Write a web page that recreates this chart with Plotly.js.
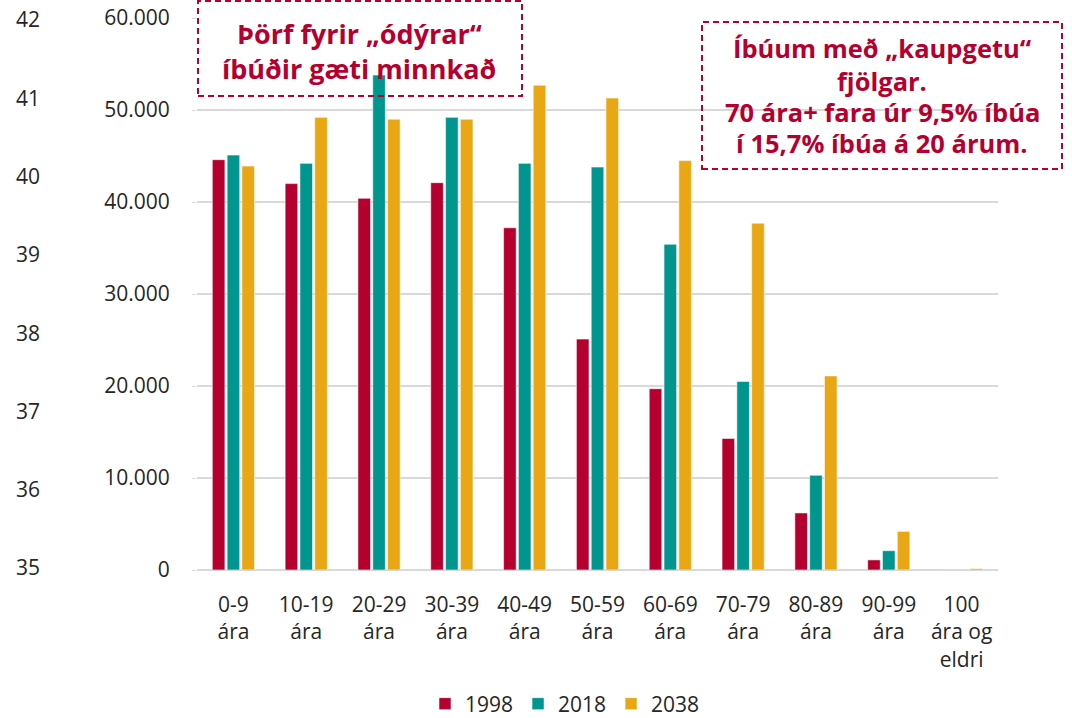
<!DOCTYPE html>
<html>
<head>
<meta charset="utf-8">
<script src="https://cdn.plot.ly/plotly-3.0.1.min.js"></script>
<style>
  html, body { margin: 0; padding: 0; background: #ffffff; }
  #chart { width: 1072px; height: 718px; }
</style>
</head>
<body>
<div id="chart"></div>
<script>
// ---- data ----
const categories = ["0-9<br>ára", "10-19<br>ára", "20-29<br>ára", "30-39<br>ára", "40-49<br>ára",
  "50-59<br>ára", "60-69<br>ára", "70-79<br>ára", "80-89<br>ára", "90-99<br>ára", "100<br>ára og<br>eldri"];
const seriesNames = ["1998", "2018", "2038"];
const values1998 = [44600, 42000, 40400, 42100, 37200, 25100, 19700, 14300, 6200, 1100, 30];
const values2018 = [45100, 44200, 53800, 49200, 44200, 43800, 35400, 20500, 10300, 2100, 60];
const values2038 = [43900, 49200, 49000, 49000, 52700, 51300, 44500, 37700, 21100, 4200, 150];
const leftTicks = [35, 36, 37, 38, 39, 40, 41, 42];
const note1 = ["Þörf fyrir „ódýrar“", "íbúðir gæti minnkað"];
const note2 = ["Íbúum með „kaupgetu“", "fjölgar.", "70 ára+ fara úr 9,5% íbúa", "í 15,7% íbúa á 20 árum."];

// ---- styles ----
const colors = ["#b5002f", "#00968f", "#e9a714"];
const noteColor = "#b5002f";
const FONT = "Open Sans, Noto Sans, sans-serif";
const W = 1072, H = 718, L = 40, R = 74, T = 18, B = 148;
const pw = W - L - R, ph = H - T - B;
const px = x => (x - L) / pw;
const py = y => (H - B - y) / ph;

const allVals = [values1998, values2018, values2038];
const traces = allVals.map((v, i) => ({
  type: "bar",
  name: seriesNames[i],
  x: categories,
  y: v,
  marker: { color: colors[i], line: { color: "rgba(255,255,255,0.55)", width: 1 } },
  hoverinfo: "x+y+name"
}));
traces.push({ type: "scatter", x: [], y: [], yaxis: "y2", showlegend: false, hoverinfo: "skip" });

const annotations = [];
const n1y = [33, 69];
note1.forEach((t, i) => annotations.push({
  xref: "paper", yref: "paper", x: px(359), y: py(n1y[i]), xanchor: "center", yanchor: "middle",
  text: "<b>" + t + "</b>", showarrow: false, font: { family: FONT, size: 27, color: noteColor }
}));
const n2y = [48, 81, 112, 143];
note2.forEach((t, i) => annotations.push({
  xref: "paper", yref: "paper", x: px(882), y: py(n2y[i]), xanchor: "center", yanchor: "middle",
  text: "<b>" + t + "</b>", showarrow: false, font: { family: FONT, size: 25.5, color: noteColor }
}));

const shapes = [
  { type: "rect", xref: "paper", yref: "paper", x0: px(198), x1: px(522), y0: py(96), y1: py(1),
    line: { color: noteColor, width: 2, dash: "6px,4px" }, fillcolor: "rgba(0,0,0,0)" },
  { type: "rect", xref: "paper", yref: "paper", x0: px(702), x1: px(1062), y0: py(169), y1: py(22),
    line: { color: noteColor, width: 2, dash: "6px,4px" }, fillcolor: "rgba(0,0,0,0)" }
];

const layout = {
  width: W, height: H,
  margin: { l: L, r: R, t: T, b: B, pad: 0, autoexpand: false },
  paper_bgcolor: "#ffffff", plot_bgcolor: "#ffffff",
  separators: ",.",
  font: { family: FONT, size: 21, color: "#262626" },
  barmode: "group",
  bargap: 0.39,
  bargroupgap: 0.15,
  showlegend: true,
  legend: { orientation: "h", x: px(565), xanchor: "center", y: py(704), yanchor: "middle",
    font: { family: FONT, size: 21, color: "#262626" }, traceorder: "normal" },
  xaxis: {
    domain: [px(197), 1],
    type: "category",
    showline: false, showgrid: false, zeroline: false,
    ticks: "", tickfont: { family: FONT, size: 21, color: "#262626" },
    ticklabelstandoff: 20,
    automargin: false,
    fixedrange: true
  },
  yaxis: {
    range: [0, 60000], dtick: 10000, tickformat: ",d",
    showgrid: true, gridcolor: "#d9d9d9", gridwidth: 1.5,
    zeroline: true, zerolinecolor: "#d9d9d9", zerolinewidth: 2,
    showline: false,
    ticks: "outside", ticklen: 4, tickcolor: "#d9d9d9",
    ticklabelstandoff: 18,
    tickfont: { family: FONT, size: 21, color: "#262626" },
    automargin: false,
    fixedrange: true
  },
  yaxis2: {
    overlaying: "y", anchor: "free", position: 0, side: "left",
    range: [34.975, 42.025], tickvals: leftTicks, ticktext: leftTicks.map(String),
    showgrid: false, zeroline: false, showline: false, ticks: "",
    tickfont: { family: FONT, size: 21, color: "#262626" },
    automargin: false,
    fixedrange: true
  },
  shapes: shapes,
  annotations: annotations
};

Plotly.newPlot("chart", traces, layout, { displayModeBar: false, staticPlot: true });
</script>
</body>
</html>
